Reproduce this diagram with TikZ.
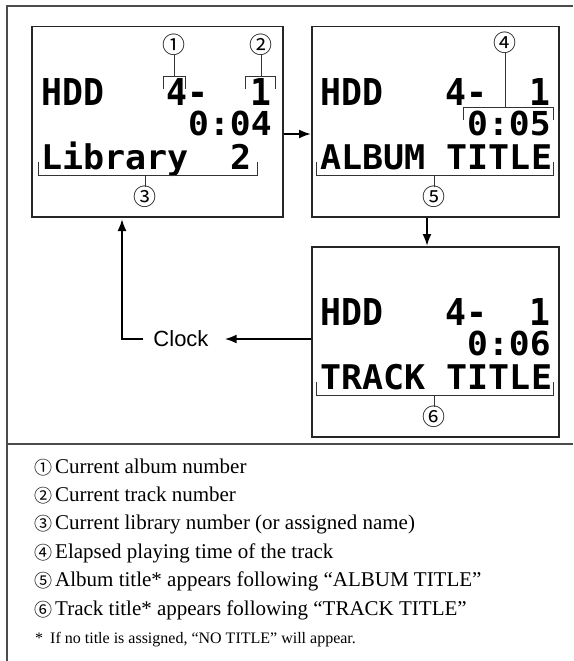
\documentclass[tikz,border=0pt]{standalone}
\usepackage{fontspec}
\setmainfont{Liberation Serif}
\newfontfamily\lcd{DejaVu Sans Mono}
\newfontfamily\circfont{Noto Sans CJK JP}
\newfontfamily\clockfont{Liberation Sans}
\usetikzlibrary{arrows.meta}
\newcommand{\lcdrow}[3]{\fontsize{#1}{#1}\selectfont\scalebox{#2}[1]{#3}}
\begin{document}
\begin{tikzpicture}[x=1pt,y=-1pt,
  frame/.style={line width=1.4pt, draw=black!70},
  lcdbox/.style={line width=1.5pt, draw=black!85, inner sep=0pt, anchor=north west},
  lcdtext/.style={inner sep=0pt, anchor=base west, font=\lcd\bfseries},
  brk/.style={line width=0.9pt, draw=black!80},
  cnum/.style={inner sep=0pt, font=\circfont\fontsize{23}{23}\selectfont},
  flow/.style={line width=2pt, -{Latex[length=12pt,width=9pt]}},
  legend/.style={inner sep=0pt, anchor=base west, font=\fontsize{21}{21}\selectfont},
  foot/.style={inner sep=0pt, anchor=base west, font=\fontsize{16}{16}\selectfont},
  lnum/.style={inner sep=0pt, anchor=base west, font=\circfont\fontsize{18}{18}\selectfont},
]
\useasboundingbox (0,0) rectangle (573,661);
\fill[white] (0,0) rectangle (573,661);
% outer frame
\draw[frame] (573,6) -- (7,6) -- (7,661);
\draw[frame] (7,444) -- (573,444);

% display boxes
\node[lcdbox, minimum width=251pt, minimum height=190pt] (d1) at (31,26) {};
\node[lcdbox, minimum width=247pt, minimum height=190pt] (d2) at (311,26) {};
\node[lcdbox, minimum width=247pt, minimum height=190pt] (d3) at (311,246) {};

% display texts
\node[lcdtext] (t11) at (41,105.5) {\lcdrow{37}{0.94}{HDD~~~4-~~1}};
\node[lcdtext] (t12) at (188,135) {\lcdrow{33}{1.05}{0:04}};
\node[lcdtext] (t13) at (41,169) {\lcdrow{34}{1.03}{Library~~2}};

\node[lcdtext] (t21) at (320,105.5) {\lcdrow{37}{0.94}{HDD~~~4-~~1}};
\node[lcdtext] (t22) at (467,135) {\lcdrow{33}{1.05}{0:05}};
\node[lcdtext] (t23) at (320,169) {\lcdrow{34}{1.03}{ALBUM~TITLE}};

\node[lcdtext] (t31) at (320,325.5) {\lcdrow{37}{0.94}{HDD~~~4-~~1}};
\node[lcdtext] (t32) at (467,355) {\lcdrow{33}{1.05}{0:06}};
\node[lcdtext] (t33) at (320,389) {\lcdrow{34}{1.03}{TRACK~TITLE}};

% callout numbers
\node[cnum] (c1) at (174,45) {①};
\node[cnum] (c2) at (261,45) {②};
\node[cnum] (c3) at (145,197) {③};
\node[cnum] (c4) at (505,43) {④};
\node[cnum] (c5) at (434,197) {⑤};
\node[cnum] (c6) at (434,417) {⑥};

% brackets
\coordinate (b1) at (174,76);
\coordinate (b2) at (261,76);
\coordinate (b3) at (145,175);
\coordinate (b4) at (505,107);
\coordinate (b5) at (434,175);
\coordinate (b6) at (434,395);
\draw[brk] (163,89) -- (163,76) -- (185,76) -- (185,89);
\draw[brk] (245,89) -- (245,76) -- (275,76) -- (275,89);
\draw[brk] (38,162) -- (38,175) -- (257,175) -- (257,162);
\draw[brk] (463,120) -- (463,107) -- (553,107) -- (553,120);
\draw[brk] (316,162) -- (316,175) -- (553,175) -- (553,162);
\draw[brk] (316,382) -- (316,395) -- (553,395) -- (553,382);
\draw[brk] (c1) ++(0,10) -- (b1);
\draw[brk] (c2) ++(0,10) -- (b2);
\draw[brk] (c3) ++(0,-10) -- (b3);
\draw[brk] (c4) ++(0,10) -- (b4);
\draw[brk] (c5) ++(0,-10) -- (b5);
\draw[brk] (c6) ++(0,-10) -- (b6);

% flow arrows
\coordinate (y12) at (0,134);
\coordinate (x23) at (427,0);
\coordinate (x31) at (122,219);
\node[inner sep=0pt, font=\clockfont\fontsize{22}{22}\selectfont] (clock) at (181,339) {Clock};
\draw[flow] (d1.east |- y12) -- (d2.west |- y12);
\draw[flow] (d2.south -| x23) -- (d3.north -| x23);
\draw[flow] (d3.west |- clock.east) -- ([xshift=16pt]clock.east);
\draw[flow] ([xshift=-10pt]clock.west) -| (x31);

% legend
\node[lnum] (l1) at (34,474) {①};
\node[lnum] (l2) at (34,502.4) {②};
\node[lnum] (l3) at (34,530.8) {③};
\node[lnum] (l4) at (34,559.2) {④};
\node[lnum] (l5) at (34,587.6) {⑤};
\node[lnum] (l6) at (34,616) {⑥};
\node[legend] (e1) at (55,473) {Current album number};
\node[legend] (e2) at (55,501.4) {Current track number};
\node[legend] (e3) at (55,529.8) {Current library number (or assigned name)};
\node[legend] (e4) at (55,558.2) {Elapsed playing time of the track};
\node[legend] (e5) at (55,586.6) {Album title* appears following “ALBUM TITLE”};
\node[legend] (e6) at (55,615) {Track title* appears following “TRACK TITLE”};
\node[foot] (f0) at (35,643) {*};
\node[foot] (f1) at (50,643) {If no title is assigned, “NO TITLE” will appear.};
\end{tikzpicture}
\end{document}
